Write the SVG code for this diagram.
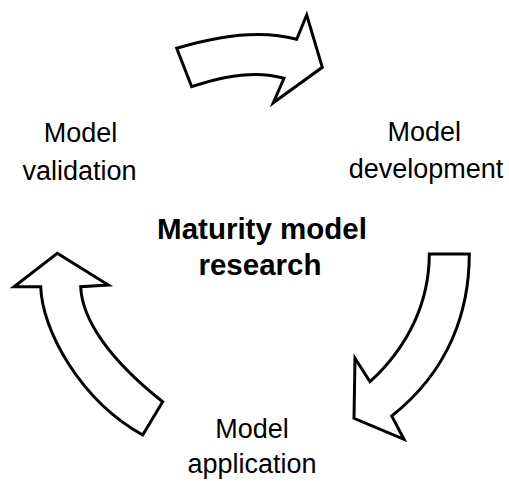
<svg xmlns="http://www.w3.org/2000/svg" width="509" height="481" viewBox="0 0 509 481">
<style>
.lbl{font-family:"Liberation Sans",Arial,sans-serif;font-size:27px;fill:#000;text-anchor:middle}
.ttl{font-family:"Liberation Sans",Arial,sans-serif;font-size:29.5px;font-weight:bold;fill:#000;text-anchor:middle}
.arr{fill:#fff;stroke:#000;stroke-width:3;stroke-linejoin:miter}
</style>
<rect width="509" height="481" fill="#fff"/>
<g id="connectors">
<path class="arr" d="M176.7 48.3 Q249.3 26.2 296.7 39.3 L306.7 15 L322.3 67.3 L273.3 102.7 L284 78.3 Q248 67.5 191.7 86.7 Z"/>
<path class="arr" d="M429.3 254 L469.3 254 C469.3 310 450 370 391.7 416 L404 439.3 L354 418.3 L355 358.3 L370 381.7 C410 345 429.3 300 429.3 254 Z"/>
<path class="arr" d="M57.3 253.3 L108.3 285 L80.7 286.7 C82 320 110 360 162.7 401.7 L142.7 435 C80 400 42 330 40.7 286.7 L14 286.7 Z"/>
</g>
<g id="center">
<text class="ttl" x="262" y="239.3">Maturity model</text>
<text class="ttl" x="260" y="275">research</text>
</g>
<g id="validation">
<text class="lbl" x="80.5" y="141.5">Model</text>
<text class="lbl" x="79.5" y="179.5">validation</text>
</g>
<g id="development">
<text class="lbl" x="424.3" y="140.7">Model</text>
<text class="lbl" x="426" y="178.3">development</text>
</g>
<g id="application">
<text class="lbl" x="252" y="438.3">Model</text>
<text class="lbl" x="252" y="473.3">application</text>
</g>
</svg>
